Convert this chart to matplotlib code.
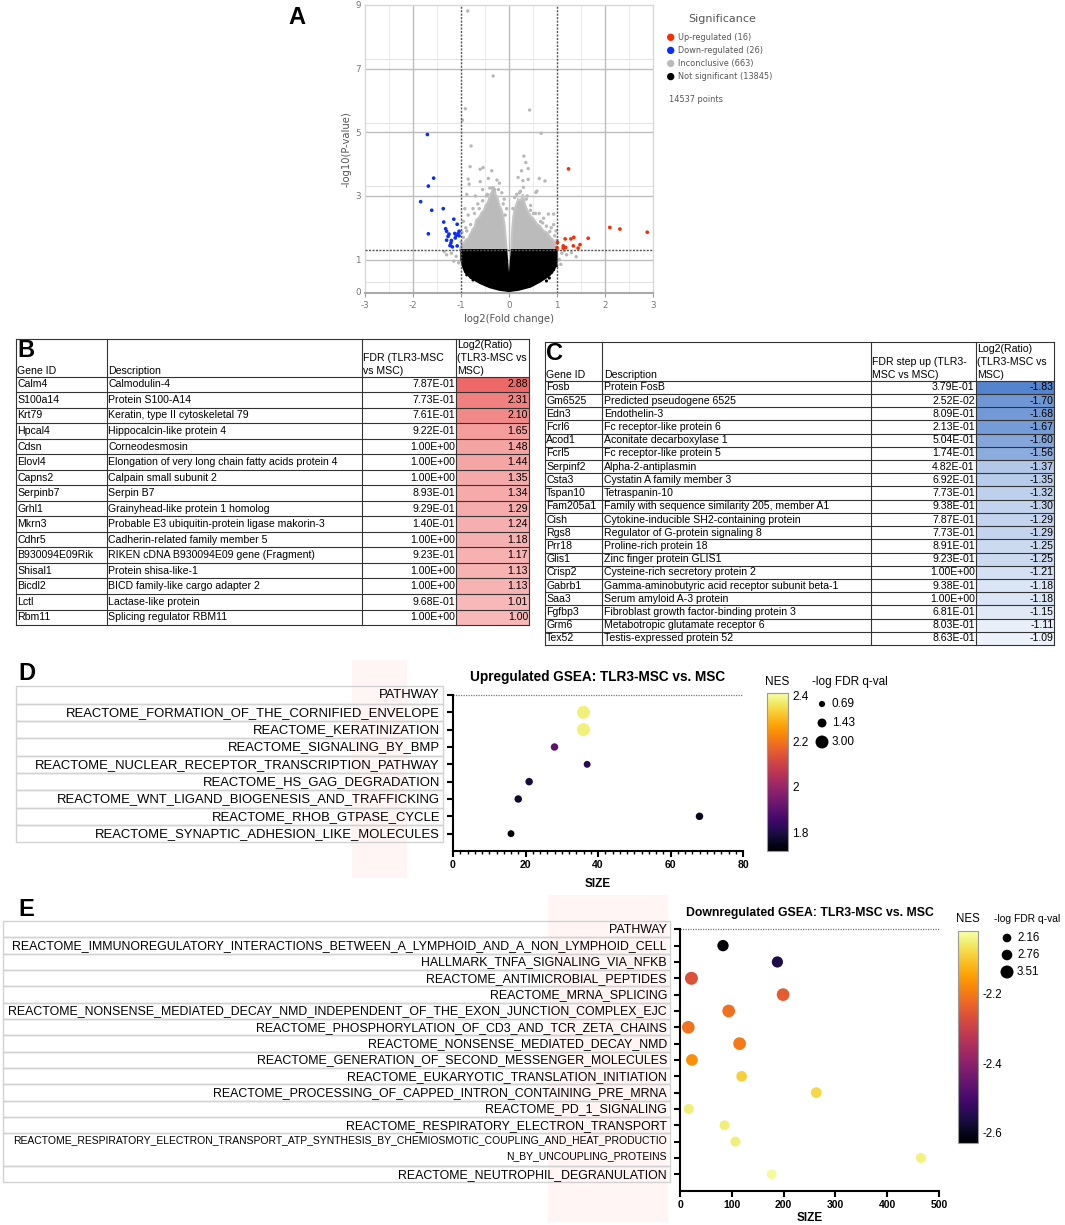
import matplotlib
matplotlib.use('Agg')
import matplotlib.pyplot as plt
import numpy as np
from matplotlib.patches import Rectangle, Polygon
from matplotlib import cm, colors as mcolors

plt.rcParams['font.family'] = ['Liberation Sans', 'DejaVu Sans']
plt.rcParams['axes.unicode_minus'] = False

# ---------------- DATA ----------------
# Panel A volcano
up_x = [2.88, 2.31, 2.10, 1.65, 1.48, 1.44, 1.35, 1.34, 1.29, 1.24, 1.18, 1.17, 1.13, 1.13, 1.01, 1.00]
up_y = [1.86, 1.96, 2.01, 1.67, 1.47, 1.36, 1.70, 1.43, 1.65, 3.85, 1.38, 1.65, 1.36, 1.43, 1.54, 1.37]
down_x = [-1.70, -1.57, -1.68, -1.84, -1.61, -1.37, -1.36, -1.15, -1.68, -1.32, -1.30, -1.08, -1.13,
          -1.10, -1.04, -1.27, -1.30, -1.20, -1.23, -1.18, -1.08, -1.21, -1.04, -1.12, -1.06, -1.25]
down_y = [4.93, 3.56, 3.31, 2.82, 2.55, 2.60, 2.18, 2.27, 1.81, 1.97, 1.89, 2.11, 1.82,
          1.76, 1.89, 1.73, 1.61, 1.60, 1.44, 1.40, 1.43, 1.52, 1.75, 1.68, 1.82, 1.80]
gray_x = [-0.86, -0.33, -0.91, -0.97, 0.43, 0.67, -0.79, 0.31, 0.35, 0.40, 0.26, 0.19, 0.29, 0.40, 0.63,
          0.75, 0.30, 0.56, 0.58, 0.51, 0.63, 0.82, 0.93, 0.66, 0.93, 0.72, 0.88, 0.98, 0.45, 0.38, 0.22,
          -0.81, -0.60, -0.54, -0.36, -0.85, -0.83, -0.60, -0.43, -0.25, -0.20, -0.35, -0.55, -0.30, -0.88,
          -0.70, -0.45, -0.15, -0.92, -0.85, -0.95, -0.90, -0.98, -0.65, -0.75, -0.10, -0.05,
          -1.20, -1.30, -1.10, -1.05, -1.15, -1.35, 1.10, 1.20, 1.40, 1.05, 1.30, 1.08, 1.15,
          -0.95, -0.88, -0.80, -0.72, -0.62, -0.55, -0.47, -0.40, -0.22, -0.12, -0.08, 0.08, 0.12, 0.16,
          0.24, 0.36, 0.45, 0.55, 0.70, 0.78, 0.85, 0.95, 1.00, -1.00, -0.98]
gray_y = [8.81, 6.77, 5.74, 5.38, 5.70, 4.97, 4.57, 4.25, 4.05, 3.86, 3.79, 3.58, 3.48, 3.52, 3.55,
          3.47, 3.27, 3.11, 3.15, 2.45, 2.45, 2.43, 2.43, 2.20, 2.10, 2.30, 2.00, 1.90, 2.70, 3.00, 3.10,
          3.92, 3.84, 3.89, 3.79, 3.53, 3.37, 3.45, 3.55, 3.50, 3.40, 3.25, 3.20, 3.20, 3.05,
          3.00, 3.05, 3.10, 2.60, 2.40, 2.20, 2.00, 1.85, 2.75, 2.60, 2.90, 2.60,
          1.20, 1.15, 1.10, 0.90, 0.95, 1.25, 1.20, 1.15, 1.09, 1.00, 1.22, 0.85, 1.28,
          1.70, 1.90, 2.10, 2.45, 2.60, 2.85, 3.00, 3.25, 3.20, 2.75, 2.40, 2.60, 2.95, 3.05,
          3.15, 2.90, 2.55, 2.45, 2.15, 2.05, 1.88, 1.75, 1.60, 1.55, 1.40]
# outline of the dense inconclusive clouds (left and right lobes)
gray_left_x = [-1.02, -0.99, -0.95, -0.90, -0.85, -0.80, -0.76, -0.72, -0.68, -0.62, -0.57, -0.52, -0.49,
               -0.44, -0.40, -0.36, -0.32, -0.28, -0.24, -0.20, -0.15, -0.12, -0.09, -0.07, -0.05]
gray_left_y = [1.31, 1.45, 1.50, 1.62, 1.66, 1.82, 1.95, 2.02, 2.25, 2.33, 2.48, 2.55, 2.70,
               2.80, 3.02, 3.12, 3.30, 3.05, 2.95, 2.70, 2.55, 2.35, 2.05, 1.70, 1.31]
gray_right_x = [0.05, 0.06, 0.07, 0.09, 0.12, 0.15, 0.19, 0.24, 0.29, 0.32, 0.36, 0.40, 0.46, 0.51, 0.58,
                0.65, 0.72, 0.79, 0.86, 0.92, 0.97, 1.03]
gray_right_y = [1.31, 1.70, 2.00, 2.35, 2.60, 2.72, 2.90, 2.85, 3.05, 2.80, 2.62, 2.50, 2.35, 2.28, 2.12,
                2.05, 1.90, 1.85, 1.70, 1.62, 1.48, 1.31]
# outline of the dense not-significant cloud
black_x = [-1.00, -1.00, -0.97, -0.92, -0.80, -0.60, -0.40, -0.20, 0.00, 0.20, 0.45, 0.65, 0.85, 0.95, 1.00, 1.00, 0.05, 0.00, -0.05]
black_y = [1.31, 1.00, 0.80, 0.60, 0.42, 0.25, 0.12, 0.04, 0.00, 0.04, 0.14, 0.30, 0.50, 0.70, 0.90, 1.31, 1.31, 0.30, 1.31]
black_pts_x = [-0.88, -0.80, -0.69, 0.89, 0.84, 0.99, -0.95, -0.97, -0.75, 0.78, 0.93]
black_pts_y = [0.52, 0.45, 0.44, 0.60, 0.42, 0.81, 0.92, 1.13, 0.36, 0.33, 0.68]
legend_labels = ['Up-regulated (16)', 'Down-regulated (26)', 'Inconclusive (663)', 'Not significant (13845)']
n_points_text = '14537 points'

# Panel B table
gene_up = ["Calm4", "S100a14", "Krt79", "Hpcal4", "Cdsn", "Elovl4", "Capns2", "Serpinb7", "Grhl1", "Mkrn3",
           "Cdhr5", "B930094E09Rik", "Shisal1", "Bicdl2", "Lctl", "Rbm11"]
desc_up = ["Calmodulin-4", "Protein S100-A14", "Keratin, type II cytoskeletal 79", "Hippocalcin-like protein 4",
           "Corneodesmosin", "Elongation of very long chain fatty acids protein 4", "Calpain small subunit 2",
           "Serpin B7", "Grainyhead-like protein 1 homolog", "Probable E3 ubiquitin-protein ligase makorin-3",
           "Cadherin-related family member 5", "RIKEN cDNA B930094E09 gene (Fragment)", "Protein shisa-like-1",
           "BICD family-like cargo adapter 2", "Lactase-like protein", "Splicing regulator RBM11"]
fdr_up = ["7.87E-01", "7.73E-01", "7.61E-01", "9.22E-01", "1.00E+00", "1.00E+00", "1.00E+00", "8.93E-01",
          "9.29E-01", "1.40E-01", "1.00E+00", "9.23E-01", "1.00E+00", "1.00E+00", "9.68E-01", "1.00E+00"]
log2_up = [2.88, 2.31, 2.10, 1.65, 1.48, 1.44, 1.35, 1.34, 1.29, 1.24, 1.18, 1.17, 1.13, 1.13, 1.01, 1.00]
header_B = [["Gene ID"], ["Description"], ["FDR (TLR3-MSC", "vs MSC)"], ["Log2(Ratio)", "(TLR3-MSC vs", "MSC)"]]

# Panel C table
gene_dn = ["Fosb", "Gm6525", "Edn3", "Fcrl6", "Acod1", "Fcrl5", "Serpinf2", "Csta3", "Tspan10", "Fam205a1",
           "Cish", "Rgs8", "Prr18", "Glis1", "Crisp2", "Gabrb1", "Saa3", "Fgfbp3", "Grm6", "Tex52"]
desc_dn = ["Protein FosB", "Predicted pseudogene 6525", "Endothelin-3", "Fc receptor-like protein 6",
           "Aconitate decarboxylase 1", "Fc receptor-like protein 5", "Alpha-2-antiplasmin",
           "Cystatin A family member 3", "Tetraspanin-10", "Family with sequence similarity 205, member A1",
           "Cytokine-inducible SH2-containing protein", "Regulator of G-protein signaling 8",
           "Proline-rich protein 18", "Zinc finger protein GLIS1", "Cysteine-rich secretory protein 2",
           "Gamma-aminobutyric acid receptor subunit beta-1", "Serum amyloid A-3 protein",
           "Fibroblast growth factor-binding protein 3", "Metabotropic glutamate receptor 6",
           "Testis-expressed protein 52"]
fdr_dn = ["3.79E-01", "2.52E-02", "8.09E-01", "2.13E-01", "5.04E-01", "1.74E-01", "4.82E-01", "6.92E-01",
          "7.73E-01", "9.38E-01", "7.87E-01", "7.73E-01", "8.91E-01", "9.23E-01", "1.00E+00", "9.38E-01",
          "1.00E+00", "6.81E-01", "8.03E-01", "8.63E-01"]
log2_dn = [-1.83, -1.70, -1.68, -1.67, -1.60, -1.56, -1.37, -1.35, -1.32, -1.30, -1.29, -1.29, -1.25, -1.25,
           -1.21, -1.18, -1.18, -1.15, -1.11, -1.09]
header_C = [["Gene ID"], ["Description"], ["FDR step up (TLR3-", "MSC vs MSC)"], ["Log2(Ratio)", "(TLR3-MSC vs", "MSC)"]]

# Panel D
path_up = ["REACTOME_FORMATION_OF_THE_CORNIFIED_ENVELOPE", "REACTOME_KERATINIZATION", "REACTOME_SIGNALING_BY_BMP",
           "REACTOME_NUCLEAR_RECEPTOR_TRANSCRIPTION_PATHWAY", "REACTOME_HS_GAG_DEGRADATION",
           "REACTOME_WNT_LIGAND_BIOGENESIS_AND_TRAFFICKING", "REACTOME_RHOB_GTPASE_CYCLE",
           "REACTOME_SYNAPTIC_ADHESION_LIKE_MOLECULES"]
gsea_size_up = [36, 36, 28, 37, 21, 18, 68, 16]
nes_up = [2.38, 2.38, 1.906, 1.82, 1.79, 1.775, 1.76, 1.72]
qval_up = [3.0, 3.0, 1.0, 0.85, 1.0, 1.0, 1.0, 0.85]
legend_q_up = [0.69, 1.43, 3.00]

# Panel E
path_dn = ["REACTOME_IMMUNOREGULATORY_INTERACTIONS_BETWEEN_A_LYMPHOID_AND_A_NON_LYMPHOID_CELL",
           "HALLMARK_TNFA_SIGNALING_VIA_NFKB", "REACTOME_ANTIMICROBIAL_PEPTIDES", "REACTOME_MRNA_SPLICING",
           "REACTOME_NONSENSE_MEDIATED_DECAY_NMD_INDEPENDENT_OF_THE_EXON_JUNCTION_COMPLEX_EJC",
           "REACTOME_PHOSPHORYLATION_OF_CD3_AND_TCR_ZETA_CHAINS", "REACTOME_NONSENSE_MEDIATED_DECAY_NMD",
           "REACTOME_GENERATION_OF_SECOND_MESSENGER_MOLECULES", "REACTOME_EUKARYOTIC_TRANSLATION_INITIATION",
           "REACTOME_PROCESSING_OF_CAPPED_INTRON_CONTAINING_PRE_MRNA", "REACTOME_PD_1_SIGNALING",
           "REACTOME_RESPIRATORY_ELECTRON_TRANSPORT",
           "REACTOME_RESPIRATORY_ELECTRON_TRANSPORT_ATP_SYNTHESIS_BY_CHEMIOSMOTIC_COUPLING_AND_HEAT_PRODUCTIO",
           "N_BY_UNCOUPLING_PROTEINS", "REACTOME_NEUTROPHIL_DEGRANULATION"]
gsea_size_dn = [83, 188, 22, 199, 94, 16, 115, 23, 119, 263, 17, 86, 107, 465, 177]
nes_dn = [-2.63, -2.557, -2.265, -2.245, -2.215, -2.21, -2.20, -2.17, -2.09, -2.08, -2.05, -2.05, -2.05, -2.045, -2.03]
qval_dn = [2.99, 2.95, 3.51, 3.41, 3.41, 3.41, 3.41, 3.10, 2.78, 2.78, 2.58, 2.58, 2.58, 2.58, 2.47]
legend_q_dn = [2.16, 2.76, 3.51]

# ---------------- FIGURE ----------------
W, H = 1065, 1225
fig = plt.figure(figsize=(W / 100, H / 100), dpi=100)
fig.patch.set_facecolor('white')


def axpos(l, t, r, b):
    return [l / W, 1 - b / H, (r - l) / W, (b - t) / H]


cv = fig.add_axes([0, 0, 1, 1])
cv.set_xlim(0, W)
cv.set_ylim(H, 0)
cv.axis('off')

PX2PT = 0.72


def s_up(v):
    return 29.0 * v


def s_dn(v):
    r = 0.85 + 1.61 * v
    return (2 * r * PX2PT) ** 2


# ---------------- Panel A ----------------
axA = fig.add_axes(axpos(365, 5, 653, 293))
axA.set_xlim(-3, 3)
axA.set_ylim(-0.05, 9)
for xv in [-2.5, -1.5, -0.5, 0.5, 1.5, 2.5]:
    axA.axvline(xv, color='#ececec', lw=0.8, zorder=0)
for yv in [0.3, 3.3, 5.3, 7.3]:
    axA.axhline(yv, color='#e4e4e4', lw=0.8, zorder=0)
for xv in [-2, 0, 2]:
    axA.axvline(xv, color='#bdbdbd', lw=1.0, zorder=0)
for yv in [1, 3, 5, 7]:
    axA.axhline(yv, color='#bdbdbd', lw=1.0, zorder=0)
axA.add_patch(Polygon(list(zip(gray_left_x, gray_left_y)), closed=True, fc='#bbbbbb', ec='#c4c4c4', lw=1.5, zorder=1))
axA.add_patch(Polygon(list(zip(gray_right_x, gray_right_y)), closed=True, fc='#bbbbbb', ec='#c4c4c4', lw=1.5, zorder=1))
axA.scatter(gray_x, gray_y, s=6, color='#b8b8b8', edgecolors='none', zorder=2)
axA.add_patch(Polygon(list(zip(black_x, black_y)), closed=True, fc='black', ec='black', lw=1, zorder=3))
axA.scatter(black_pts_x, black_pts_y, s=5, color='black', edgecolors='none', zorder=3)
axA.scatter(down_x, down_y, s=7, color='#0a2cff', edgecolors='none', zorder=4)
axA.scatter(up_x, up_y, s=7, color='#ff2a00', edgecolors='none', zorder=4)
for xv in [-1, 1]:
    axA.axvline(xv, color='#555555', lw=1.0, ls=(0, (1.5, 1)), zorder=5)
axA.axhline(1.301, color='#555555', lw=1.0, ls=(0, (1.5, 1)), zorder=5)
axA.set_xticks([-3, -2, -1, 0, 1, 2, 3])
axA.set_yticks([0, 1, 3, 5, 7, 9])
axA.tick_params(axis='both', labelsize=6.3, colors='#777777', length=0, pad=3)
axA.tick_params(axis='x', length=3, color='#999999')
for side in ['top', 'right', 'left']:
    axA.spines[side].set_color('#d8d8d8')
    axA.spines[side].set_linewidth(1.0)
axA.spines['bottom'].set_color('#aaaaaa')
axA.spines['bottom'].set_linewidth(1.5)
for lab in axA.get_xticklabels() + axA.get_yticklabels():
    lab.set_family('DejaVu Sans')
axA.set_xlabel('log2(Fold change)', fontsize=7.2, color='#555555', family='DejaVu Sans', labelpad=3)
axA.set_ylabel('-log10(P-value)', fontsize=7.2, color='#555555', family='DejaVu Sans', labelpad=3)

cv.text(297, 18, 'A', fontsize=17, fontweight='bold', ha='center', va='center')
cv.text(387.5, 22, '26', fontsize=16, fontweight='bold', color='#3a35f0', ha='center', va='center')
cv.text(621.5, 22, '16', fontsize=16, fontweight='bold', color='#f02a3a', ha='center', va='center')
cv.text(722, 19, 'Significance', fontsize=8, color='#555555', ha='center', va='center', family='DejaVu Sans')
leg_cols = ['#ff2a00', '#0a2cff', '#bbbbbb', 'black']
for i, (lab, col) in enumerate(zip(legend_labels, leg_cols)):
    yy = 37.3 + i * 13.1
    cv.scatter([670.7], [yy], s=28, color=col, edgecolors='none')
    cv.text(678.5, yy, lab, fontsize=5.9, color='#555555', va='center', ha='left', family='DejaVu Sans')
cv.text(669, 99.7, n_points_text, fontsize=5.9, color='#555555', va='center', ha='left', family='DejaVu Sans')


# ---------------- Tables B and C ----------------
def lerp_col(c0, c1, f):
    f = min(max(f, 0), 1)
    return tuple((a + (b - a) * f) / 255.0 for a, b in zip(c0, c1))


def draw_table(cols, top, hb, rh, headers, genes, descs, fdrs, vals, colfun, letter, fs=7.6):
    n = len(genes)
    bottom = hb + n * rh
    for i, v in enumerate(vals):
        cv.add_patch(Rectangle((cols[3], hb + i * rh), cols[4] - cols[3], rh, fc=colfun(v), ec='none', zorder=1))
    lc = '#333333'
    lw = 0.8
    cv.plot([cols[0], cols[4]], [top, top], color=lc, lw=lw, zorder=2)
    for i in range(n + 1):
        y = hb + i * rh
        cv.plot([cols[0], cols[4]], [y, y], color=lc, lw=lw, zorder=2)
    for x in cols:
        cv.plot([x, x], [top, bottom], color=lc, lw=lw, zorder=2)
    for j, lines in enumerate(headers):
        m = len(lines)
        for k, line in enumerate(lines):
            y = hb - 5.8 - (m - 1 - k) * 12.7
            cv.text(cols[j] + 1.5, y, line, fontsize=fs, ha='left', va='center', zorder=3)
    cv.text(cols[0] + 1.5, top + 11.5, letter, fontsize=17, fontweight='bold', ha='left', va='center', zorder=3)
    for i in range(n):
        yc = hb + (i + 0.5) * rh
        cv.text(cols[0] + 1.5, yc, genes[i], fontsize=fs, ha='left', va='center', zorder=3)
        cv.text(cols[1] + 1.5, yc, descs[i], fontsize=fs, ha='left', va='center', zorder=3)
        cv.text(cols[3] - 1.0, yc, fdrs[i], fontsize=fs, ha='right', va='center', zorder=3)
        cv.text(cols[4] - 1.0, yc, '%.2f' % vals[i], fontsize=fs, ha='right', va='center', zorder=3)


red_dark, red_light = (238, 104, 104), (248, 184, 184)
vmin_u, vmax_u = min(log2_up), max(log2_up)
draw_table([15.7, 107, 361.7, 455.7, 529], 339, 376.7, 15.52, header_B, gene_up, desc_up, fdr_up, log2_up,
           lambda v: lerp_col(red_light, red_dark, (v - vmin_u) / (vmax_u - vmin_u)), 'B')
blue_dark, blue_light = (84, 132, 205), (237, 242, 250)
vmin_d, vmax_d = min(log2_dn), max(log2_dn)
draw_table([544.7, 602.3, 870.7, 975.7, 1054.3], 341.7, 380.7, 13.22, header_C, gene_dn, desc_dn, fdr_dn, log2_dn,
           lambda v: lerp_col(blue_dark, blue_light, (v - vmin_d) / (vmax_d - vmin_d)), 'C')

# ---------------- Panel D ----------------
cmap = plt.get_cmap('inferno')
normD = mcolors.Normalize(vmin=1.72, vmax=2.41)
cv.add_patch(Rectangle((352, 660), 55, 218, fc='#fff5f5', ec='none', zorder=0))
yD0, pD = 695.0, (851.0 - 695.0) / 9
labelsD = ['PATHWAY'] + path_up
for i, lab in enumerate(labelsD):
    yc = yD0 + i * pD
    cv.add_patch(Rectangle((16, yc - pD / 2), 427, pD, fill=False, ec='#d2d2d2', lw=1.0, zorder=1))
    cv.text(440, yc + 0.5, lab, fontsize=9.4, ha='right', va='center', zorder=2)
cv.text(18, 673.5, 'D', fontsize=17, fontweight='bold', ha='left', va='center')

axD = fig.add_axes(axpos(453, yD0, 743, 851))
axD.set_facecolor('none')
axD.set_xlim(0, 80)
axD.set_ylim(9, 0)
posD = list(range(1, len(path_up) + 1))
axD.scatter(gsea_size_up, posD, s=[s_up(v) for v in qval_up], c=nes_up, cmap=cmap, norm=normD,
            edgecolors='none', zorder=3, clip_on=False)
axD.plot([0, 80], [0, 0], ls=(0, (1, 1)), color='#777777', lw=0.9, clip_on=False, zorder=2)
axD.set_yticks(range(0, 9))
axD.set_yticklabels([])
axD.set_xticks([0, 20, 40, 60, 80])
axD.set_xticks(np.arange(0, 81, 2), minor=True)
for side in ['top', 'right']:
    axD.spines[side].set_visible(False)
for side in ['left', 'bottom']:
    axD.spines[side].set_linewidth(1.5)
axD.tick_params(which='major', direction='out', length=4.5, width=1.5, labelsize=7.5, pad=2)
axD.tick_params(which='minor', direction='out', length=2.5, width=1.0)
for lab in axD.get_xticklabels():
    lab.set_fontweight('bold')
cv.text(598, 677, 'Upregulated GSEA: TLR3-MSC vs. MSC', fontsize=9.8, fontweight='bold', ha='center', va='center')
cv.text(598, 884, 'SIZE', fontsize=8.5, fontweight='bold', ha='center', va='center')

caxD = fig.add_axes(axpos(767, 693, 788, 851))
cbD = fig.colorbar(cm.ScalarMappable(norm=normD, cmap=cmap), cax=caxD)
cbD.set_ticks([1.8, 2.0, 2.2, 2.4])
cbD.set_ticklabels(['1.8', '2', '2.2', '2.4'])
caxD.tick_params(length=0, labelsize=8.5, pad=3)
cbD.outline.set_edgecolor('#9a9a9a')
cbD.outline.set_linewidth(0.8)
cv.text(777, 682, 'NES', fontsize=8.5, ha='center', va='center')
cv.text(812, 682, '-log FDR q-val', fontsize=8.5, ha='left', va='center')
for i, q in enumerate(legend_q_up):
    yy = 704 + i * 19
    cv.scatter([822], [yy], s=s_up(q), color='black', edgecolors='none')
    cv.text(832, yy, '%.2f' % q, fontsize=8.5, ha='left', va='center')

# ---------------- Panel E ----------------
normE = mcolors.Normalize(vmin=-2.63, vmax=-2.02)
cv.add_patch(Rectangle((548, 895), 120, 327, fc='#fff5f5', ec='none', zorder=0))
yE0, pE = 929.3, (1190.6 - 929.3) / 16
cv.text(18, 910, 'E', fontsize=17, fontweight='bold', ha='left', va='center')
cv.add_patch(Rectangle((3, yE0 - pE / 2), 667, pE, fill=False, ec='#d2d2d2', lw=1.0, zorder=1))
cv.text(667, yE0 + 0.5, 'PATHWAY', fontsize=8.9, ha='right', va='center', zorder=2)
i = 0
while i < len(path_dn):
    yc = yE0 + (i + 1) * pE
    if path_dn[i].endswith('PRODUCTIO'):
        cv.add_patch(Rectangle((3, yc - pE / 2), 667, 2 * pE, fill=False, ec='#d2d2d2', lw=1.0, zorder=1))
        cv.text(667, yc - 1.5, path_dn[i], fontsize=7.5, ha='right', va='center', zorder=2)
        cv.text(667, yc + pE - 1.5, path_dn[i + 1], fontsize=7.5, ha='right', va='center', zorder=2)
        i += 2
        continue
    cv.add_patch(Rectangle((3, yc - pE / 2), 667, pE, fill=False, ec='#d2d2d2', lw=1.0, zorder=1))
    cv.text(667, yc + 0.5, path_dn[i], fontsize=8.9, ha='right', va='center', zorder=2)
    i += 1

axE = fig.add_axes(axpos(680, yE0, 939, 1190.6))
axE.set_facecolor('none')
axE.set_xlim(0, 500)
axE.set_ylim(16, 0)
posE = list(range(1, len(path_dn) + 1))
axE.scatter(gsea_size_dn, posE, s=[s_dn(v) for v in qval_dn], c=nes_dn, cmap=cmap, norm=normE,
            edgecolors='none', zorder=3, clip_on=False)
axE.plot([0, 500], [0, 0], ls=(0, (1, 1)), color='#777777', lw=0.9, clip_on=False, zorder=2)
axE.set_yticks(range(0, 16))
axE.set_yticklabels([])
axE.set_xticks([0, 100, 200, 300, 400, 500])
for side in ['top', 'right']:
    axE.spines[side].set_visible(False)
for side in ['left', 'bottom']:
    axE.spines[side].set_linewidth(1.5)
axE.tick_params(which='major', direction='out', length=4.5, width=1.5, labelsize=7.5, pad=2)
for lab in axE.get_xticklabels():
    lab.set_fontweight('bold')
cv.text(810, 913, 'Downregulated GSEA: TLR3-MSC vs. MSC', fontsize=8.8, fontweight='bold', ha='center', va='center')
cv.text(810, 1218, 'SIZE', fontsize=8.5, fontweight='bold', ha='center', va='center')

caxE = fig.add_axes(axpos(958, 931, 978, 1143))
cbE = fig.colorbar(cm.ScalarMappable(norm=normE, cmap=cmap), cax=caxE)
cbE.set_ticks([-2.6, -2.4, -2.2])
cbE.set_ticklabels(['-2.6', '-2.4', '-2.2'])
caxE.tick_params(length=0, labelsize=8.3, pad=3)
cbE.outline.set_edgecolor('#9a9a9a')
cbE.outline.set_linewidth(0.8)
cv.text(968, 919, 'NES', fontsize=8.3, ha='center', va='center')
cv.text(994, 919, '-log FDR q-val', fontsize=7.4, ha='left', va='center')
for i, q in enumerate(legend_q_dn):
    yy = 938 + i * 17
    cv.scatter([1007], [yy], s=s_dn(q), color='black', edgecolors='none')
    cv.text(1017, yy, '%.2f' % q, fontsize=8.3, ha='left', va='center')

fig.savefig('out.png', dpi=100)
